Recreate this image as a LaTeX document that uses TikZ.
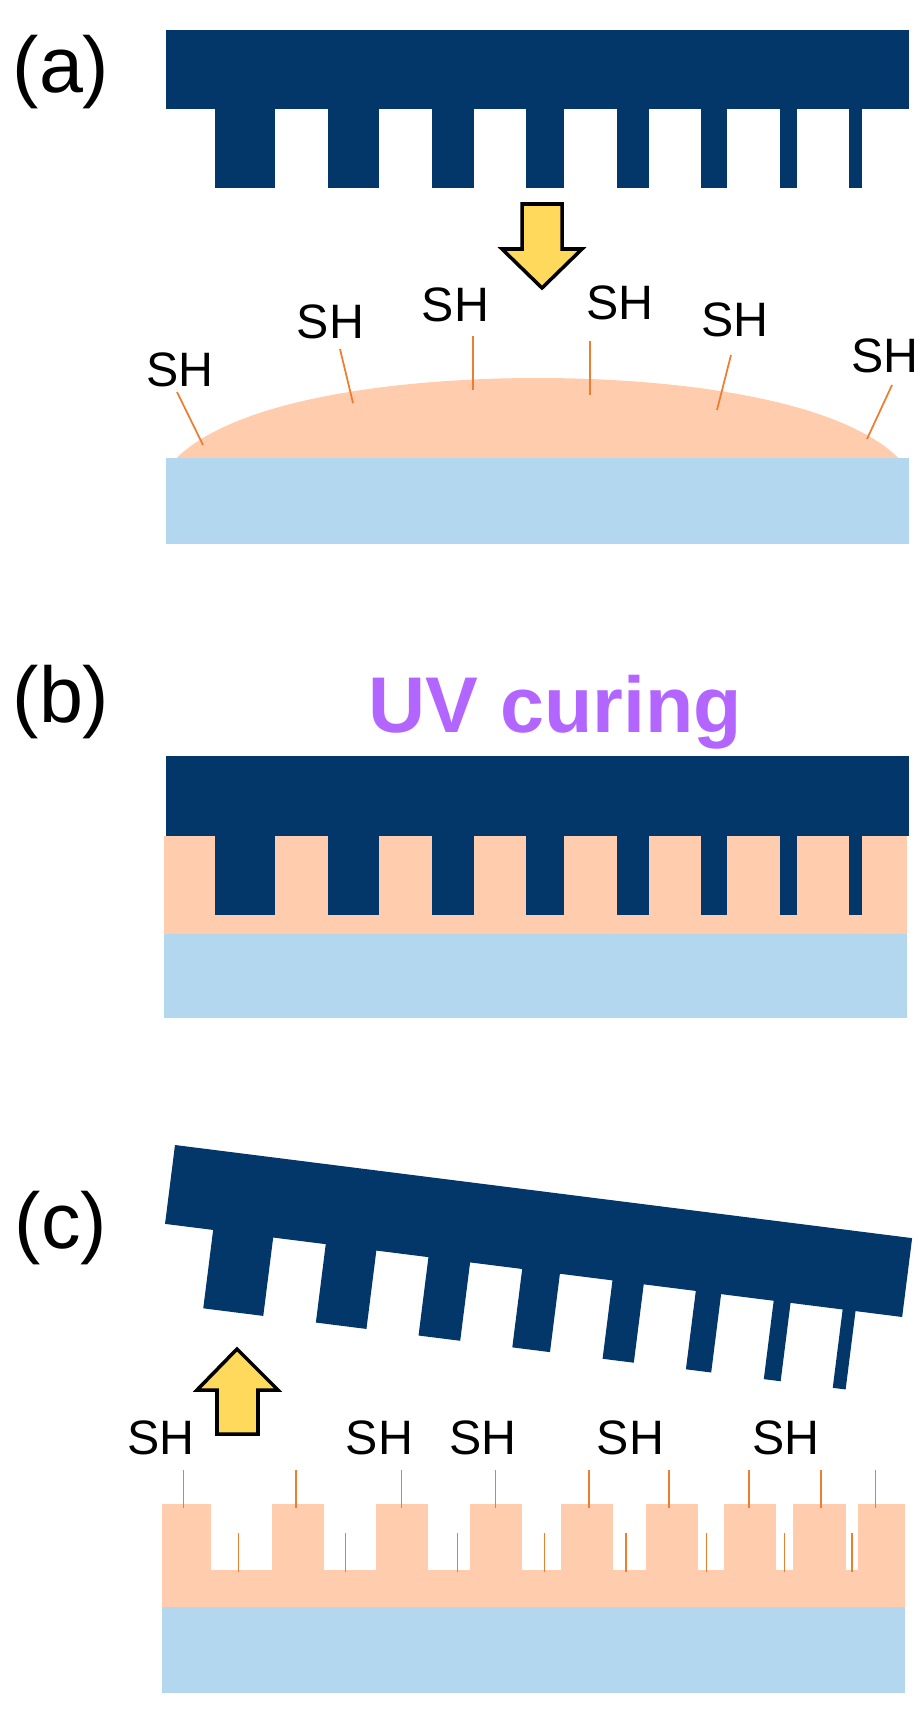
\documentclass[tikz,border=0pt]{standalone}
\usepackage{fontspec}
\setmainfont{Liberation Sans}
\definecolor{stampblue}{HTML}{03376A}
\definecolor{resincol}{HTML}{FFCCAD}
\definecolor{glasscol}{HTML}{B4D7F0}
\definecolor{arrowcol}{HTML}{FFD95B}
\definecolor{thiolcol}{HTML}{ED7D31}
\definecolor{uvcol}{HTML}{B266FF}
\tikzset{
  stamp/.style={fill=stampblue},
  resin/.style={fill=resincol},
  glass/.style={fill=glasscol},
  thiol/.style={draw=thiolcol, line width=1pt},
  bigarrow/.style={draw=black, fill=arrowcol, line width=2pt, miter limit=10},
  panel/.style={font=\fontsize{45}{48}\selectfont, inner sep=0pt},
  shlabel/.style={font=\fontsize{27.5}{30}\selectfont, inner sep=0pt}
}
\newcommand{\stampshape}{
  \fill[stamp] (0, 0) rectangle (743, 79.5);
  \foreach \l/\r in {48.5/109, 162/213, 265.5/307.5, 360/398,
                     451/482.5, 535/560.5, 613.5/630.5, 683/696}
    \fill[stamp] (\l, 79) rectangle (\r, 158.5);
}
\begin{document}
\begin{tikzpicture}[x=0.02cm, y=-0.02cm]
    \useasboundingbox (0, 0) rectangle (920, 1709);

    \node[panel] (la) at (61, 72) {(a)};
    \begin{scope}[shift={(166, 30)}]
      \stampshape
    \end{scope}
    \draw[bigarrow] (522, 204) -- (562, 204) -- (562, 249) -- (582, 249) -- (542, 288)
                    -- (502, 249) -- (522, 249) -- cycle;
    \fill[resin] (176.5, 458) .. controls (240, 396) and (410, 378) .. (537.5, 378)
                 .. controls (665, 378) and (835, 396) .. (898.5, 458) -- cycle;
    \fill[glass] (166, 458) rectangle (908.5, 543.5);
    \foreach \xa/\ya/\xb/\yb in {177/392/203/445, 340/349/353/403, 473/336/473/390,
                                 590/341/590/395, 731/355/717/410, 892/385/867/439}
      \draw[thiol] (\xa, \ya) -- (\xb, \yb);
    \foreach \x/\y/\n in {180/370/1, 330.5/322/2, 455.5/305/3, 620/303/4, 735/320/5, 885/356/6}
      \node[shlabel] (sha\n) at (\x, \y) {SH};

    \node[panel] (lb) at (61, 702) {(b)};
    \node[font=\fontsize{45}{48}\selectfont\bfseries, text=uvcol, inner sep=0pt, anchor=base]
      (uv) at (555.5, 732) {UV curing};
    \fill[resin] (164, 836) rectangle (907, 934);
    \fill[glass] (164, 934) rectangle (907, 1018);
    \begin{scope}[shift={(166, 756)}]
      \stampshape
    \end{scope}

    \node[panel] (lc) at (61, 1228) {(c)};
    \begin{scope}[shift={(175, 1145)}, rotate=-7.2]
      \stampshape
    \end{scope}
    \draw[bigarrow] (217, 1434) -- (258, 1434) -- (258, 1390) -- (278, 1390) -- (237, 1349)
                    -- (197, 1390) -- (217, 1390) -- cycle;
    \fill[resin] (162, 1570) rectangle (905, 1607);
    \foreach \l/\r in {162/210.5, 272/324, 375.5/427.5, 470/522, 560.5/613,
                       645.5/697.5, 723.5/776, 793/845.5, 858/905}
      \fill[resin] (\l, 1504) rectangle (\r, 1571);
    \fill[glass] (162, 1606.5) rectangle (905, 1693);
    \foreach \x in {183.5, 296, 401.5, 495.5, 589, 669, 749, 821, 875.5}
      \draw[thiol] (\x, 1470) -- (\x, 1508);
    \foreach \x in {238.5, 345.5, 457.5, 544.5, 626, 706.5, 784.5, 852}
      \draw[thiol] (\x, 1533) -- (\x, 1572);
    \foreach \x/\n in {161/1, 379.5/2, 483/3, 630.5/4, 786/5}
      \node[shlabel] (shc\n) at (\x, 1438) {SH};
\end{tikzpicture}
\end{document}
